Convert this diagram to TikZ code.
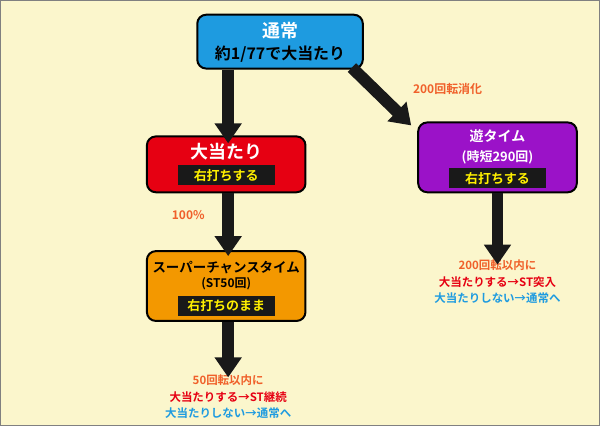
\documentclass[tikz,border=0pt]{standalone}
\usepackage{fontspec}
\setmainfont{Noto Sans CJK JP Bold}
\usetikzlibrary{arrows.meta}
\definecolor{bgyellow}{HTML}{FBF6CC}
\definecolor{boxblue}{HTML}{1E9BE0}
\definecolor{boxred}{HTML}{E60012}
\definecolor{boxpurple}{HTML}{9B12C8}
\definecolor{boxorange}{HTML}{F39800}
\definecolor{txtorange}{HTML}{F0602A}
\definecolor{txtred}{HTML}{E60012}
\definecolor{txtblue}{HTML}{1E9BE0}
\definecolor{bartext}{HTML}{FFF000}
\tikzset{
  state/.style={draw=black, line width=2pt, rounded corners=9pt, minimum width=159pt, align=center, inner sep=0pt},
  bar/.style={fill=black!90, text=bartext, font=\fontsize{13}{13}\selectfont, minimum width=97pt, minimum height=20pt, inner sep=0pt},
  flow/.style={line width=12pt, draw=black!90, -{Triangle[width=26pt,length=20pt]}},
  note/.style={align=center, font=\fontsize{11.5}{16.5}\selectfont}
}
\begin{document}
\begin{tikzpicture}[x=1pt, y=-1pt]
\path[fill=bgyellow, draw=gray, line width=1.5pt] (0,0) rectangle (600,426);

% Zustände
\node[state, fill=boxblue, minimum width=166pt, minimum height=54pt] (normal) at (280,41) {};
\node[text=white, font=\fontsize{18}{18}\selectfont] at (280,30) {通常};
\node[font=\fontsize{16}{16}\selectfont] at (280,54) {約1/77で大当たり};

\node[state, fill=boxred, minimum height=56pt] (hit) at (226,164) {};
\node[text=white, font=\fontsize{18}{18}\selectfont] at (226,151) {大当たり};
\node[bar] at (226,175) {右打ちする};

\node[state, fill=boxpurple, minimum height=70pt] (yu) at (498,157) {};
\node[text=white, font=\fontsize{14}{14}\selectfont] at (498,136) {遊タイム};
\node[text=white, font=\fontsize{13}{13}\selectfont] at (498,157) {(時短290回)};
\node[bar] at (498,178) {右打ちする};

\node[state, fill=boxorange, minimum height=70pt] (st) at (226,286) {};
\node[font=\fontsize{13.5}{13.5}\selectfont] at (226,267) {スーパーチャンスタイム};
\node[font=\fontsize{12}{12}\selectfont] at (226,284) {(ST50回)};
\node[bar] at (226,306) {右打ちのまま};

% Hinweise
\node[note] (yunote) at (498,282) {\textcolor{txtorange}{200回転以内に}\\\textcolor{txtred}{大当たりする→ST突入}\\\textcolor{txtblue}{大当たりしない→通常へ}};
\node[note] (stnote) at (228,397) {\textcolor{txtorange}{50回転以内に}\\\textcolor{txtred}{大当たりする→ST継続}\\\textcolor{txtblue}{大当たりしない→通常へ}};

% Pfeile
\draw[flow] (normal.south -| hit) ++(2,0) coordinate (n1) -- ([xshift=2pt,yshift=-8pt]hit.north);
\draw[flow] (normal.south east) ++(-12,-2) -- ([xshift=-6pt,yshift=-4pt]yu.north west);
\draw[flow] ([xshift=2pt]hit.south) -- ([xshift=2pt,yshift=-6pt]st.north);
\draw[flow] (yu.south) -- ([yshift=-8pt]yunote.north);
\draw[flow] ([xshift=2pt]st.south) -- ([yshift=-6pt]stnote.north);

\node[text=txtorange, font=\fontsize{12}{12}\selectfont] (lab200) at (448,88) {200回転消化};
\node[text=txtorange, font=\fontsize{12}{12}\selectfont] (lab100) at (188,215) {100\%};
\end{tikzpicture}
\end{document}
